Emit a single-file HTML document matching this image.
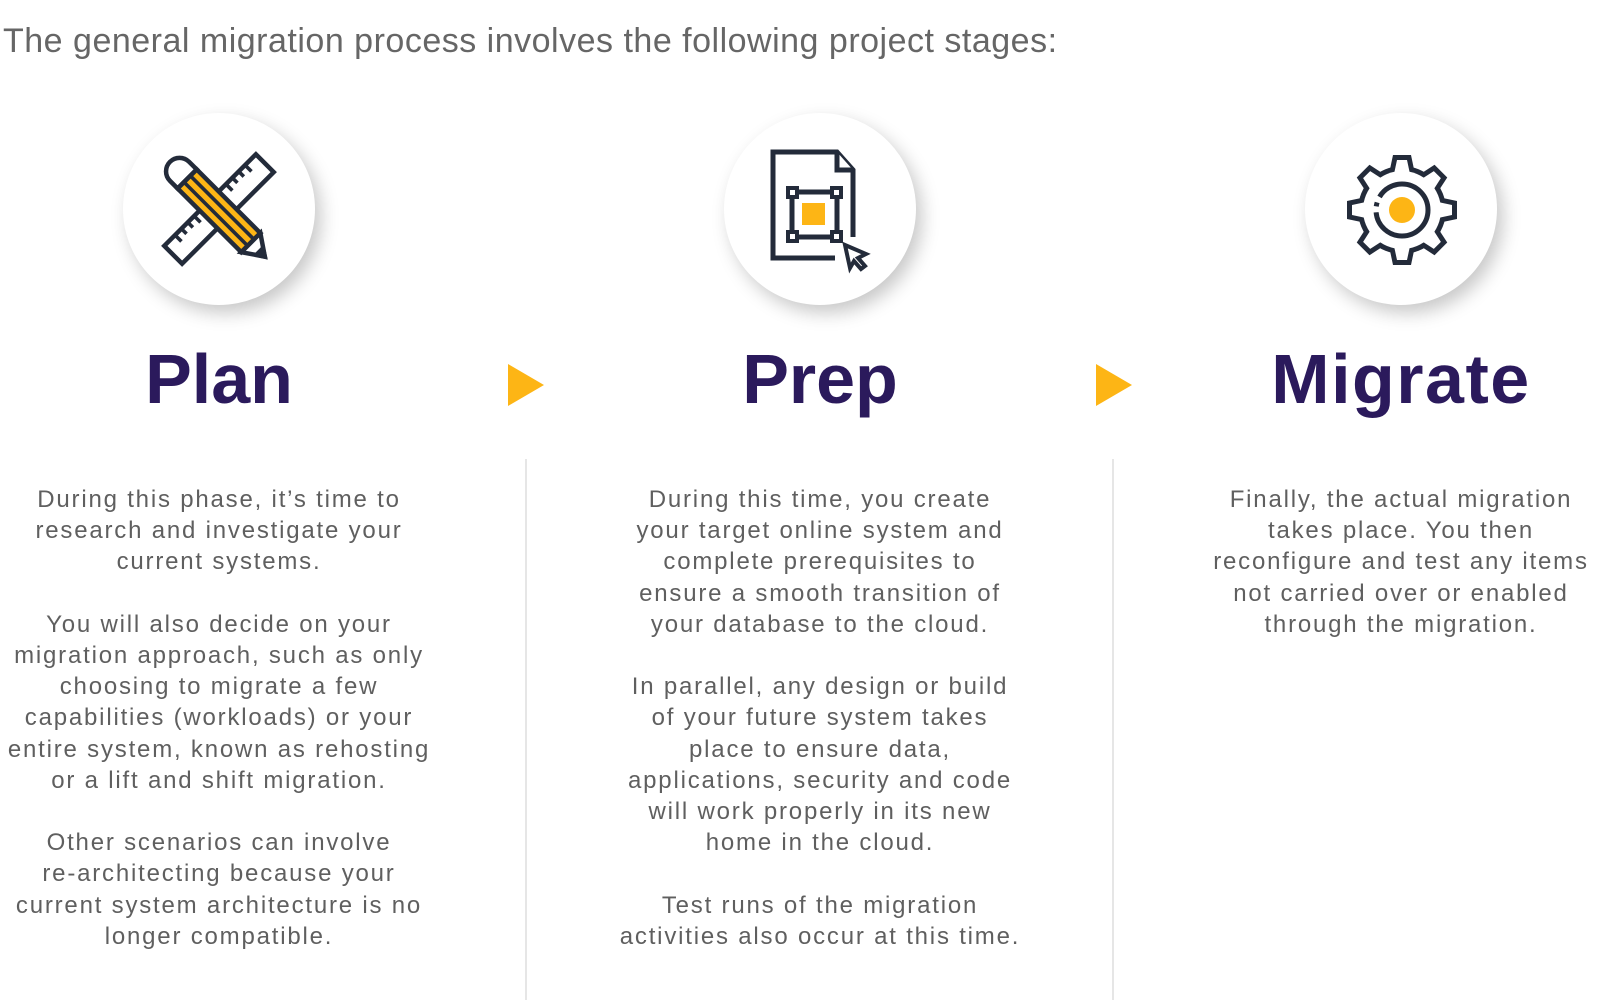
<!DOCTYPE html>
<html><head><meta charset="utf-8"><style>
html,body{margin:0;padding:0;background:#fff;}
body{width:1600px;height:1000px;position:relative;overflow:hidden;font-family:"Liberation Sans",sans-serif;}
.hd{position:absolute;left:3px;top:21px;font-size:34px;line-height:40px;color:#666;white-space:nowrap;letter-spacing:0.5px;}
.circ{position:absolute;width:192px;height:192px;border-radius:50%;background:#fff;box-shadow:6px 8px 18px rgba(0,0,0,.22);}
.title{position:absolute;top:344px;width:500px;margin-left:-250px;text-align:center;font-size:70px;line-height:70px;font-weight:bold;color:#2b1a5c;}
.body{position:absolute;top:484px;width:600px;margin-left:-300px;text-align:center;font-size:24px;line-height:31.2px;color:#5f5f5f;white-space:nowrap;letter-spacing:1.8px;}
.div{position:absolute;top:459px;width:2px;height:541px;background:#e6e6e6;}
</style></head><body>
<div class="hd">The general migration process involves the following project stages:</div>
<div class="circ" style="left:123px;top:113px"></div>
<div class="circ" style="left:724px;top:113px"></div>
<div class="circ" style="left:1305px;top:113px"></div>
<div class="div" style="left:525px"></div>
<div class="div" style="left:1112px"></div>
<svg width="1600" height="1000" style="position:absolute;left:0;top:0">
<polygon points="508,364 544,385 508,406" fill="#fdb515"/>
<polygon points="1096,364 1132,385 1096,406" fill="#fdb515"/>
<!-- plan icon -->
<g transform="translate(219,209) scale(0.9)">
<g transform="rotate(-45)" stroke="#232b3a" stroke-width="5" fill="#fff">
<rect x="-72" y="-14" width="144" height="28"/>
<g stroke-width="4">
<line x1="-55" y1="-14" x2="-55" y2="-4"/><line x1="-45" y1="-14" x2="-45" y2="-6"/><line x1="-35" y1="-14" x2="-35" y2="-6"/><line x1="-25" y1="-14" x2="-25" y2="-4"/>
<line x1="25" y1="-14" x2="25" y2="-4"/><line x1="35" y1="-14" x2="35" y2="-6"/><line x1="45" y1="-14" x2="45" y2="-6"/><line x1="55" y1="-14" x2="55" y2="-4"/>
</g>
</g>
<g transform="translate(0,2) rotate(45)" stroke="#232b3a" stroke-width="5">
<path d="M-50,-15 L-50,15 L-62,15 A15,15 0 0 1 -62,-15 Z" fill="#fff"/>
<rect x="-50" y="-15" width="100" height="30" fill="#fdb515"/>
<line x1="-50" y1="-5" x2="50" y2="-5" stroke-width="4"/>
<line x1="-50" y1="5" x2="50" y2="5" stroke-width="4"/>
<path d="M50,-15 L72,0 L50,15 Z" fill="#fff"/>
<path d="M64,-5 L72,0 L64,5 Z" fill="#232b3a"/>
</g>
</g>
<!-- prep icon -->
<g stroke="#232b3a" stroke-width="5" fill="none">
<path d="M835,258 L773,258 L773,152 L837,152 L853,170 L853,237"/>
<path d="M837,152 L837,170 L853,170" fill="#fff"/>
<rect x="792" y="192" width="45" height="45"/>
</g>
<g fill="#fff" stroke="#232b3a" stroke-width="4">
<rect x="788" y="188" width="9" height="9"/><rect x="832" y="188" width="9" height="9"/>
<rect x="788" y="232" width="9" height="9"/><rect x="832" y="232" width="9" height="9"/>
</g>
<rect x="802" y="203" width="23" height="22" fill="#fdb515"/>
<path d="M845,245 L866,254 L858,258 L865,266 L861,269 L854,261 L850,268 Z" fill="#fff" stroke="#232b3a" stroke-width="4"/>
<!-- gear -->
<g transform="translate(1402,210)">
<g fill="#232b3a">
<circle r="44"/>
<g id="t"><polygon points="-13,-36 -9,-55 9,-55 13,-36"/></g>
<use href="#t" transform="rotate(45)"/><use href="#t" transform="rotate(90)"/><use href="#t" transform="rotate(135)"/>
<use href="#t" transform="rotate(180)"/><use href="#t" transform="rotate(225)"/><use href="#t" transform="rotate(270)"/><use href="#t" transform="rotate(315)"/>
</g>
<g fill="#fff">
<circle r="39"/>
<g id="w"><polygon points="-8,-36 -5,-50 5,-50 8,-36"/></g>
<use href="#w" transform="rotate(45)"/><use href="#w" transform="rotate(90)"/><use href="#w" transform="rotate(135)"/>
<use href="#w" transform="rotate(180)"/><use href="#w" transform="rotate(225)"/><use href="#w" transform="rotate(270)"/><use href="#w" transform="rotate(315)"/>
</g>
<circle r="26" fill="none" stroke="#232b3a" stroke-width="5" stroke-dasharray="120 6 4 6 30 200" transform="rotate(-90)"/>
<circle r="13" fill="#fdb515"/>
</g>
</svg>
<div class="title" style="left:219px">Plan</div>
<div class="title" style="left:820px">Prep</div>
<div class="title" style="left:1401px;letter-spacing:1.5px">Migrate</div>
<div class="body" style="left:219px">During this phase, it’s time to<br>research and investigate your<br>current systems.<br><br>You will also decide on your<br>migration approach, such as only<br>choosing to migrate a few<br>capabilities (workloads) or your<br>entire system, known as rehosting<br>or a lift and shift migration.<br><br>Other scenarios can involve<br>re-architecting because your<br>current system architecture is no<br>longer compatible.</div>
<div class="body" style="left:820px">During this time, you create<br>your target online system and<br>complete prerequisites to<br>ensure a smooth transition of<br>your database to the cloud.<br><br>In parallel, any design or build<br>of your future system takes<br>place to ensure data,<br>applications, security and code<br>will work properly in its new<br>home in the cloud.<br><br>Test runs of the migration<br>activities also occur at this time.</div>
<div class="body" style="left:1401px">Finally, the actual migration<br>takes place. You then<br>reconfigure and test any items<br>not carried over or enabled<br>through the migration.</div>
</body></html>
